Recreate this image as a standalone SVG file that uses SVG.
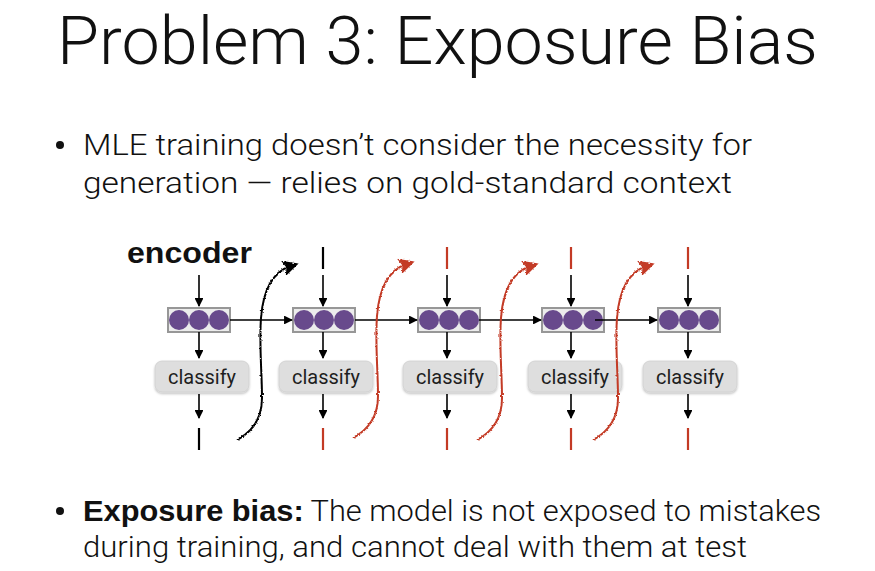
<svg xmlns="http://www.w3.org/2000/svg" width="875" height="571" viewBox="0 0 875 571">
<style>
.t{font-family:Roboto,"Liberation Sans",Arial,sans-serif;font-weight:300;fill:#111}
.title{font-size:66px}
.body{font-size:30px}
.b{font-family:"Liberation Sans",Arial,sans-serif;font-weight:bold}
.enc{font-family:"Liberation Sans",Arial,sans-serif;font-size:29px;font-weight:bold}
.box{fill:#ececec;stroke:#979797;stroke-width:2}
.dot{fill:#684a8c}
.cls{fill:#dedede;stroke:#cfcfcf;stroke-width:0.8}
.clt{font-family:Roboto,"Liberation Sans",Arial,sans-serif;font-weight:400;font-size:20px;fill:#1e1e1e;text-anchor:middle}
.ar{stroke:#000;stroke-width:1.6;fill:none;marker-end:url(#ah)}
.tk{stroke-width:2.2}
.blk{stroke:#000}
.red{stroke:#c33a25}
.cb{stroke:#000;stroke-width:2;fill:none;marker-end:url(#hb);filter:url(#rough)}
.cr{stroke:#c33a25;stroke-width:2;fill:none;marker-end:url(#hr);filter:url(#rough)}
</style>
<defs>
<marker id="ah" viewBox="0 0 10 10" refX="9" refY="5" markerWidth="5.5" markerHeight="5.5" orient="auto" markerUnits="strokeWidth">
<path d="M0,0 L10,5 L0,10 Z" fill="#000"/>
</marker>
<marker id="hb" viewBox="0 0 10 10" refX="5" refY="5" markerWidth="8" markerHeight="8" orient="auto" markerUnits="strokeWidth">
<path d="M0,0 L10,5 L0,10 L2,5 Z" fill="#000"/>
</marker>
<marker id="hr" viewBox="0 0 10 10" refX="5" refY="5" markerWidth="8" markerHeight="8" orient="auto" markerUnits="strokeWidth">
<path d="M0,0 L10,5 L0,10 L2,5 Z" fill="#c33a25"/>
</marker>
<filter id="rough" x="-50%" y="-10%" width="200%" height="120%">
<feTurbulence type="fractalNoise" baseFrequency="0.6" numOctaves="1" seed="3" result="n"/>
<feDisplacementMap in="SourceGraphic" in2="n" scale="2.8" xChannelSelector="R" yChannelSelector="G"/>
</filter>
<filter id="sh" x="-10%" y="-20%" width="120%" height="150%">
<feDropShadow dx="0" dy="1.5" stdDeviation="1.2" flood-color="#000" flood-opacity="0.25"/>
</filter>
<g id="cell">
<rect class="box" x="0" y="308" width="62" height="24"/>
<circle class="dot" cx="11" cy="320" r="10"/>
<circle class="dot" cx="31" cy="320" r="10"/>
<circle class="dot" cx="51" cy="320" r="10"/>
</g>
<path id="curve" d="M237,440 C250,433 262,420 262,398 C262,372 259,345 261,318 C263,292 272,272 291,266"/>
</defs>

<text class="t title" x="57" y="64" textLength="761" lengthAdjust="spacingAndGlyphs">Problem 3: Exposure Bias</text>

<g id="bullet1">
<circle cx="60" cy="145" r="4" fill="#111"/>
<text class="t body" x="83" y="155" textLength="669" lengthAdjust="spacingAndGlyphs">MLE training doesn’t consider the necessity for</text>
<text class="t body" x="83" y="193" textLength="649" lengthAdjust="spacingAndGlyphs">generation — relies on gold-standard context</text>
</g>

<g id="bullet2">
<circle cx="60" cy="511" r="4" fill="#111"/>
<text class="t body" x="83" y="521" textLength="738" lengthAdjust="spacingAndGlyphs"><tspan class="b">Exposure bias:</tspan> The model is not exposed to mistakes</text>
<text class="t body" x="83" y="557" textLength="664" lengthAdjust="spacingAndGlyphs">during training, and cannot deal with them at test</text>
</g>

<text id="encoder" class="t enc" x="127" y="263" textLength="125" lengthAdjust="spacingAndGlyphs">encoder</text>

<g id="step1">
<use href="#cell" x="168"/>
<g filter="url(#sh)"><rect class="cls" x="155" y="361" width="94" height="31" rx="7"/></g>
<text class="clt" x="202" y="384">classify</text>
</g>
<g id="step2">
<use href="#cell" x="293"/>
<g filter="url(#sh)"><rect class="cls" x="279" y="361" width="94" height="31" rx="7"/></g>
<text class="clt" x="326" y="384">classify</text>
</g>
<g id="step3">
<use href="#cell" x="418"/>
<g filter="url(#sh)"><rect class="cls" x="403" y="361" width="94" height="31" rx="7"/></g>
<text class="clt" x="450" y="384">classify</text>
</g>
<g id="step4">
<use href="#cell" x="542"/>
<g filter="url(#sh)"><rect class="cls" x="528" y="361" width="94" height="31" rx="7"/></g>
<text class="clt" x="575" y="384">classify</text>
</g>
<g id="step5">
<use href="#cell" x="658"/>
<g filter="url(#sh)"><rect class="cls" x="643" y="361" width="94" height="31" rx="7"/></g>
<text class="clt" x="690" y="384">classify</text>
</g>

<g id="tokens">
<line class="tk blk" x1="323" y1="247" x2="323" y2="269"/>
<line class="tk red" x1="447" y1="247" x2="447" y2="269"/>
<line class="tk red" x1="571" y1="247" x2="571" y2="269"/>
<line class="tk red" x1="688" y1="247" x2="688" y2="269"/>
<line class="tk blk" x1="199" y1="428" x2="199" y2="450"/>
<line class="tk red" x1="323" y1="428" x2="323" y2="450"/>
<line class="tk red" x1="447" y1="428" x2="447" y2="450"/>
<line class="tk red" x1="571" y1="428" x2="571" y2="450"/>
<line class="tk red" x1="688" y1="428" x2="688" y2="450"/>
</g>

<g id="connectors">
<line class="ar" x1="199" y1="275" x2="199" y2="306"/>
<line class="ar" x1="323" y1="275" x2="323" y2="306"/>
<line class="ar" x1="447" y1="275" x2="447" y2="306"/>
<line class="ar" x1="571" y1="275" x2="571" y2="306"/>
<line class="ar" x1="688" y1="275" x2="688" y2="306"/>
<line class="ar" x1="199" y1="332" x2="199" y2="358"/>
<line class="ar" x1="323" y1="332" x2="323" y2="358"/>
<line class="ar" x1="447" y1="332" x2="447" y2="358"/>
<line class="ar" x1="571" y1="332" x2="571" y2="358"/>
<line class="ar" x1="688" y1="332" x2="688" y2="358"/>
<line class="ar" x1="199" y1="394" x2="199" y2="418"/>
<line class="ar" x1="323" y1="394" x2="323" y2="418"/>
<line class="ar" x1="447" y1="394" x2="447" y2="418"/>
<line class="ar" x1="571" y1="394" x2="571" y2="418"/>
<line class="ar" x1="688" y1="394" x2="688" y2="418"/>
<line class="ar" x1="230" y1="320" x2="292" y2="320"/>
<line class="ar" x1="355" y1="320" x2="417" y2="320"/>
<line class="ar" x1="479" y1="320" x2="541" y2="320"/>
<line class="ar" x1="595" y1="320" x2="657" y2="320"/>
<use href="#curve" class="cb"/>
<use href="#curve" class="cr" x="116" y="-2"/>
<use href="#curve" class="cr" x="240"/>
<use href="#curve" class="cr" x="356"/>
</g>
</svg>
